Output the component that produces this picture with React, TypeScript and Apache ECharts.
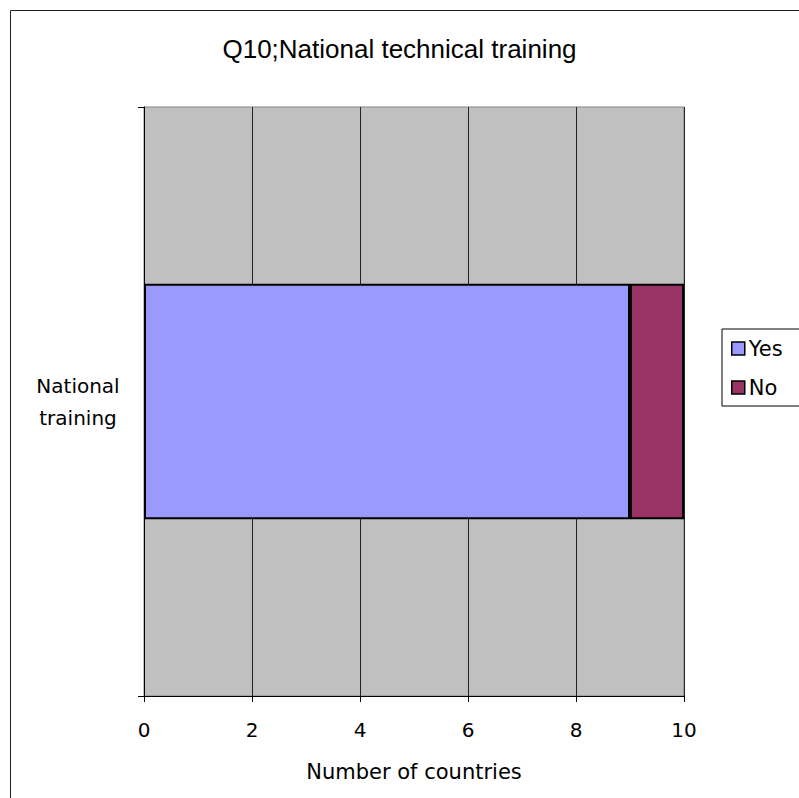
import React, { useEffect, useRef } from "react";
import * as echarts from "echarts";

const categories = ["National\ntraining"];
const yesValues = [9];
const noValues = [1];
const xTicks = { min: 0, max: 10, interval: 2 };
const titleText = "Q10;National technical training";
const xAxisName = "Number of countries";

export default function App() {
  const ref = useRef<HTMLDivElement>(null);
  useEffect(() => {
    if (!ref.current) return;
    const chart = echarts.init(ref.current, null, { renderer: "svg" });
    const labelFont = "DejaVu Sans";
    chart.setOption({
      animation: false,
      backgroundColor: "#ffffff",
      title: {
        text: titleText,
        left: "center",
        top: 36,
        padding: 0,
        textStyle: {
          fontFamily: "Liberation Sans",
          fontSize: 26,
          fontWeight: "normal",
          color: "#000",
        },
      },
      graphic: [
        {
          type: "rect",
          shape: { x: 10.5, y: 10.5, width: 820, height: 820 },
          style: { fill: "none", stroke: "#222", lineWidth: 1 },
          silent: true,
        },
      ],
      legend: {
        orient: "vertical",
        left: 722,
        top: 329,
        padding: [9, 30, 8, 9],
        itemGap: 18,
        itemWidth: 13,
        itemHeight: 13,
        borderColor: "#000",
        borderWidth: 1,
        backgroundColor: "#fff",
        icon: "rect",
        textStyle: { fontFamily: labelFont, fontSize: 21, color: "#000", padding: [0, 0, 0, -1] },
        data: [
          { name: "Yes", itemStyle: { borderColor: "#000", borderWidth: 1.5 } },
          { name: "No", itemStyle: { borderColor: "#000", borderWidth: 1.5 } },
        ],
      },
      grid: {
        left: 144,
        top: 107,
        right: 115,
        bottom: 102,
        show: true,
        backgroundColor: "#C0C0C0",
        borderColor: "#808080",
        borderWidth: 1,
      },
      xAxis: {
        type: "value",
        min: xTicks.min,
        max: xTicks.max,
        interval: xTicks.interval,
        name: xAxisName,
        nameLocation: "middle",
        nameGap: 65,
        nameTextStyle: { fontFamily: labelFont, fontSize: 21, color: "#000" },
        axisLine: { show: true, lineStyle: { color: "#000", width: 1 } },
        axisTick: { show: true, length: 6, lineStyle: { color: "#000" } },
        axisLabel: { fontFamily: labelFont, fontSize: 20, color: "#000", margin: 24 },
        splitLine: { show: true, lineStyle: { color: "#222", width: 1 } },
      },
      yAxis: {
        type: "category",
        data: categories,
        axisLine: { show: true, lineStyle: { color: "#000", width: 1 } },
        axisTick: { show: true, length: 6, lineStyle: { color: "#000" } },
        axisLabel: {
          fontFamily: labelFont,
          fontSize: 20,
          color: "#000",
          align: "center",
          margin: 66,
          lineHeight: 32,
          padding: [0, 0, 4, 0],
        },
        splitLine: { show: false },
      },
      series: [
        {
          name: "Yes",
          type: "bar",
          stack: "total",
          barWidth: "40%",
          data: yesValues,
          itemStyle: { color: "#9999FF", borderColor: "#000", borderWidth: 2 },
        },
        {
          name: "No",
          type: "bar",
          stack: "total",
          barWidth: "40%",
          data: noValues,
          itemStyle: { color: "#993366", borderColor: "#000", borderWidth: 2 },
        },
      ],
    });
    return () => chart.dispose();
  }, []);
  return (
    <div
      ref={ref}
      style={{ position: "fixed", left: 0, top: 0, width: 799, height: 798 }}
    />
  );
}
